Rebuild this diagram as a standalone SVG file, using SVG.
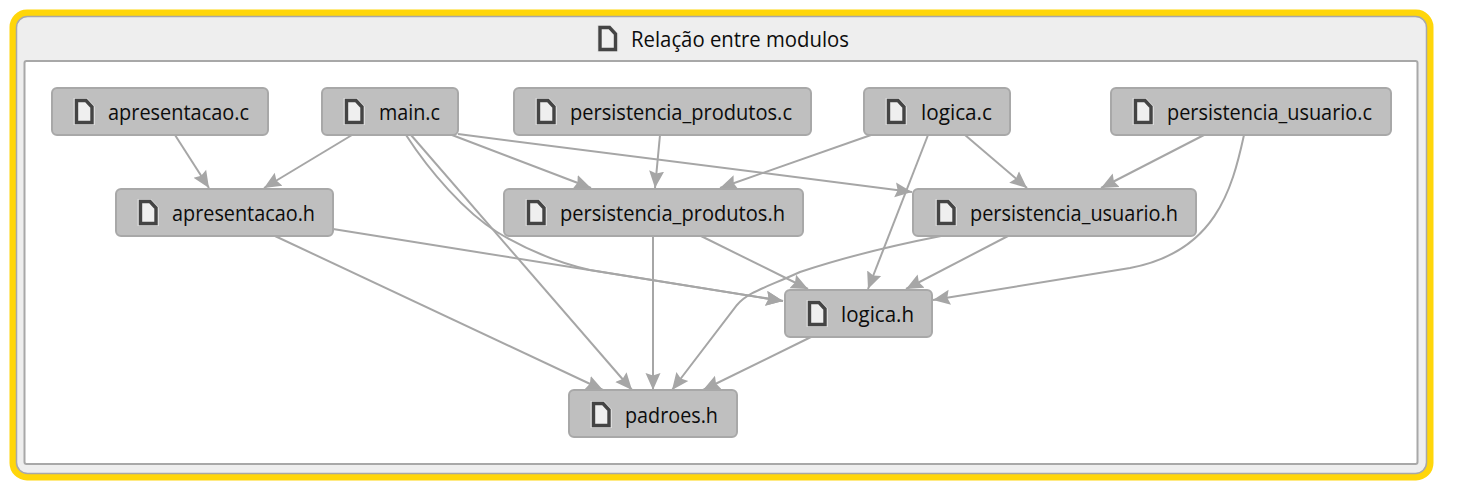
<svg xmlns="http://www.w3.org/2000/svg" width="1461" height="496" viewBox="0 0 1461 496">
<style>
.n{fill:#bfbfbf;stroke:#a8a8a8;stroke-width:2}
.t{font-family:"Open Sans","Liberation Sans",sans-serif;font-size:22px;fill:#0c0c0c}
.e{fill:none;stroke:#a6a6a6;stroke-width:2;marker-end:url(#a)}
</style>
<defs>
<marker id="a" markerUnits="userSpaceOnUse" markerWidth="19" markerHeight="18" refX="17" refY="8.500" orient="auto"><path d="M0 1L17 8.500L0 16L2.500 8.500Z" fill="#a6a6a6"/></marker>
<g id="i"><path d="M-1.500 -2H12L20 6.500V25H-1.500Z" fill="#e4e4e4" opacity=".8"/><path d="M1.500 0.500H11L17 7V22.500H1.500Z" fill="#efefef" stroke="#444" stroke-width="3.400" stroke-linejoin="miter"/></g>
</defs>
<rect width="1461" height="496" fill="#fff"/>
<g id="frame">
<rect x="13" y="13" width="1417" height="464" rx="14" fill="#eee" stroke="#ffd60a" stroke-width="7"/>
<rect x="16.500" y="16.500" width="1410" height="457" rx="11" fill="none" stroke="#a8a8a8" stroke-width="1.500"/>
<rect x="24.500" y="61" width="1393" height="403" rx="2" fill="#fff" stroke="#a8a8a8" stroke-width="2"/>
<use href="#i" x="598.500" y="27"/>
<text class="t" x="631" y="46.500" textLength="218" lengthAdjust="spacingAndGlyphs">Relação entre modulos</text>
</g>
<g id="connectors">
<path class="e" d="M175 135L209 188"/>
<path class="e" d="M352 135L264 188"/>
<path class="e" d="M452 135L591 188"/>
<path class="e" d="M458 134L912 192"/>
<path class="e" d="M406 135C430 172 465 212 497 232C525 249 555 262 590 270L783 301"/>
<path class="e" d="M411 135L632 390"/>
<path class="e" d="M660 135L655 188"/>
<path class="e" d="M871 135L720 188"/>
<path class="e" d="M928 135L868 289"/>
<path class="e" d="M965 135L1027 188"/>
<path class="e" d="M1204 135L1101 188"/>
<path class="e" d="M1244 135C1232 190 1215 252 1130 268L933 300"/>
<path class="e" d="M333 229L783 301"/>
<path class="e" d="M275 236L603 390"/>
<path class="e" d="M653 236V390"/>
<path class="e" d="M701 236L808 289"/>
<path class="e" d="M1008 236L906 289"/>
<path class="e" d="M941 236C880 248 830 262 800 272C765 288 748 292 737 305L672 390"/>
<path class="e" d="M811 337L703 390"/>
</g>
<g id="apresentacao_c"><rect class="n" x="52" y="88" width="216" height="47" rx="5"/><use href="#i" x="75" y="100"/><text class="t" x="108" y="120" textLength="141" lengthAdjust="spacingAndGlyphs">apresentacao.c</text></g>
<g id="main_c"><rect class="n" x="322" y="88" width="136" height="47" rx="5"/><use href="#i" x="345" y="100"/><text class="t" x="379" y="120" textLength="61" lengthAdjust="spacingAndGlyphs">main.c</text></g>
<g id="persistencia_produtos_c"><rect class="n" x="514" y="88" width="297" height="47" rx="5"/><use href="#i" x="537" y="100"/><text class="t" x="570" y="120" textLength="222" lengthAdjust="spacingAndGlyphs">persistencia_produtos.c</text></g>
<g id="logica_c"><rect class="n" x="864" y="88" width="146" height="47" rx="5"/><use href="#i" x="887" y="100"/><text class="t" x="921" y="120" textLength="71" lengthAdjust="spacingAndGlyphs">logica.c</text></g>
<g id="persistencia_usuario_c"><rect class="n" x="1111" y="88" width="280" height="47" rx="5"/><use href="#i" x="1134" y="100"/><text class="t" x="1167" y="120" textLength="205" lengthAdjust="spacingAndGlyphs">persistencia_usuario.c</text></g>
<g id="apresentacao_h"><rect class="n" x="116" y="189" width="217" height="47" rx="5"/><use href="#i" x="139" y="201"/><text class="t" x="172" y="221" textLength="143" lengthAdjust="spacingAndGlyphs">apresentacao.h</text></g>
<g id="persistencia_produtos_h"><rect class="n" x="504" y="189" width="299" height="47" rx="5"/><use href="#i" x="527" y="201"/><text class="t" x="560" y="221" textLength="225" lengthAdjust="spacingAndGlyphs">persistencia_produtos.h</text></g>
<g id="persistencia_usuario_h"><rect class="n" x="913" y="189" width="283" height="47" rx="5"/><use href="#i" x="937" y="201"/><text class="t" x="970" y="221" textLength="208" lengthAdjust="spacingAndGlyphs">persistencia_usuario.h</text></g>
<g id="logica_h"><rect class="n" x="785" y="290" width="147" height="47" rx="5"/><use href="#i" x="808" y="302"/><text class="t" x="841" y="322" textLength="73" lengthAdjust="spacingAndGlyphs">logica.h</text></g>
<g id="padroes_h"><rect class="n" x="569" y="390" width="168" height="47" rx="5"/><use href="#i" x="592" y="403"/><text class="t" x="625" y="423" textLength="93" lengthAdjust="spacingAndGlyphs">padroes.h</text></g>
</svg>
